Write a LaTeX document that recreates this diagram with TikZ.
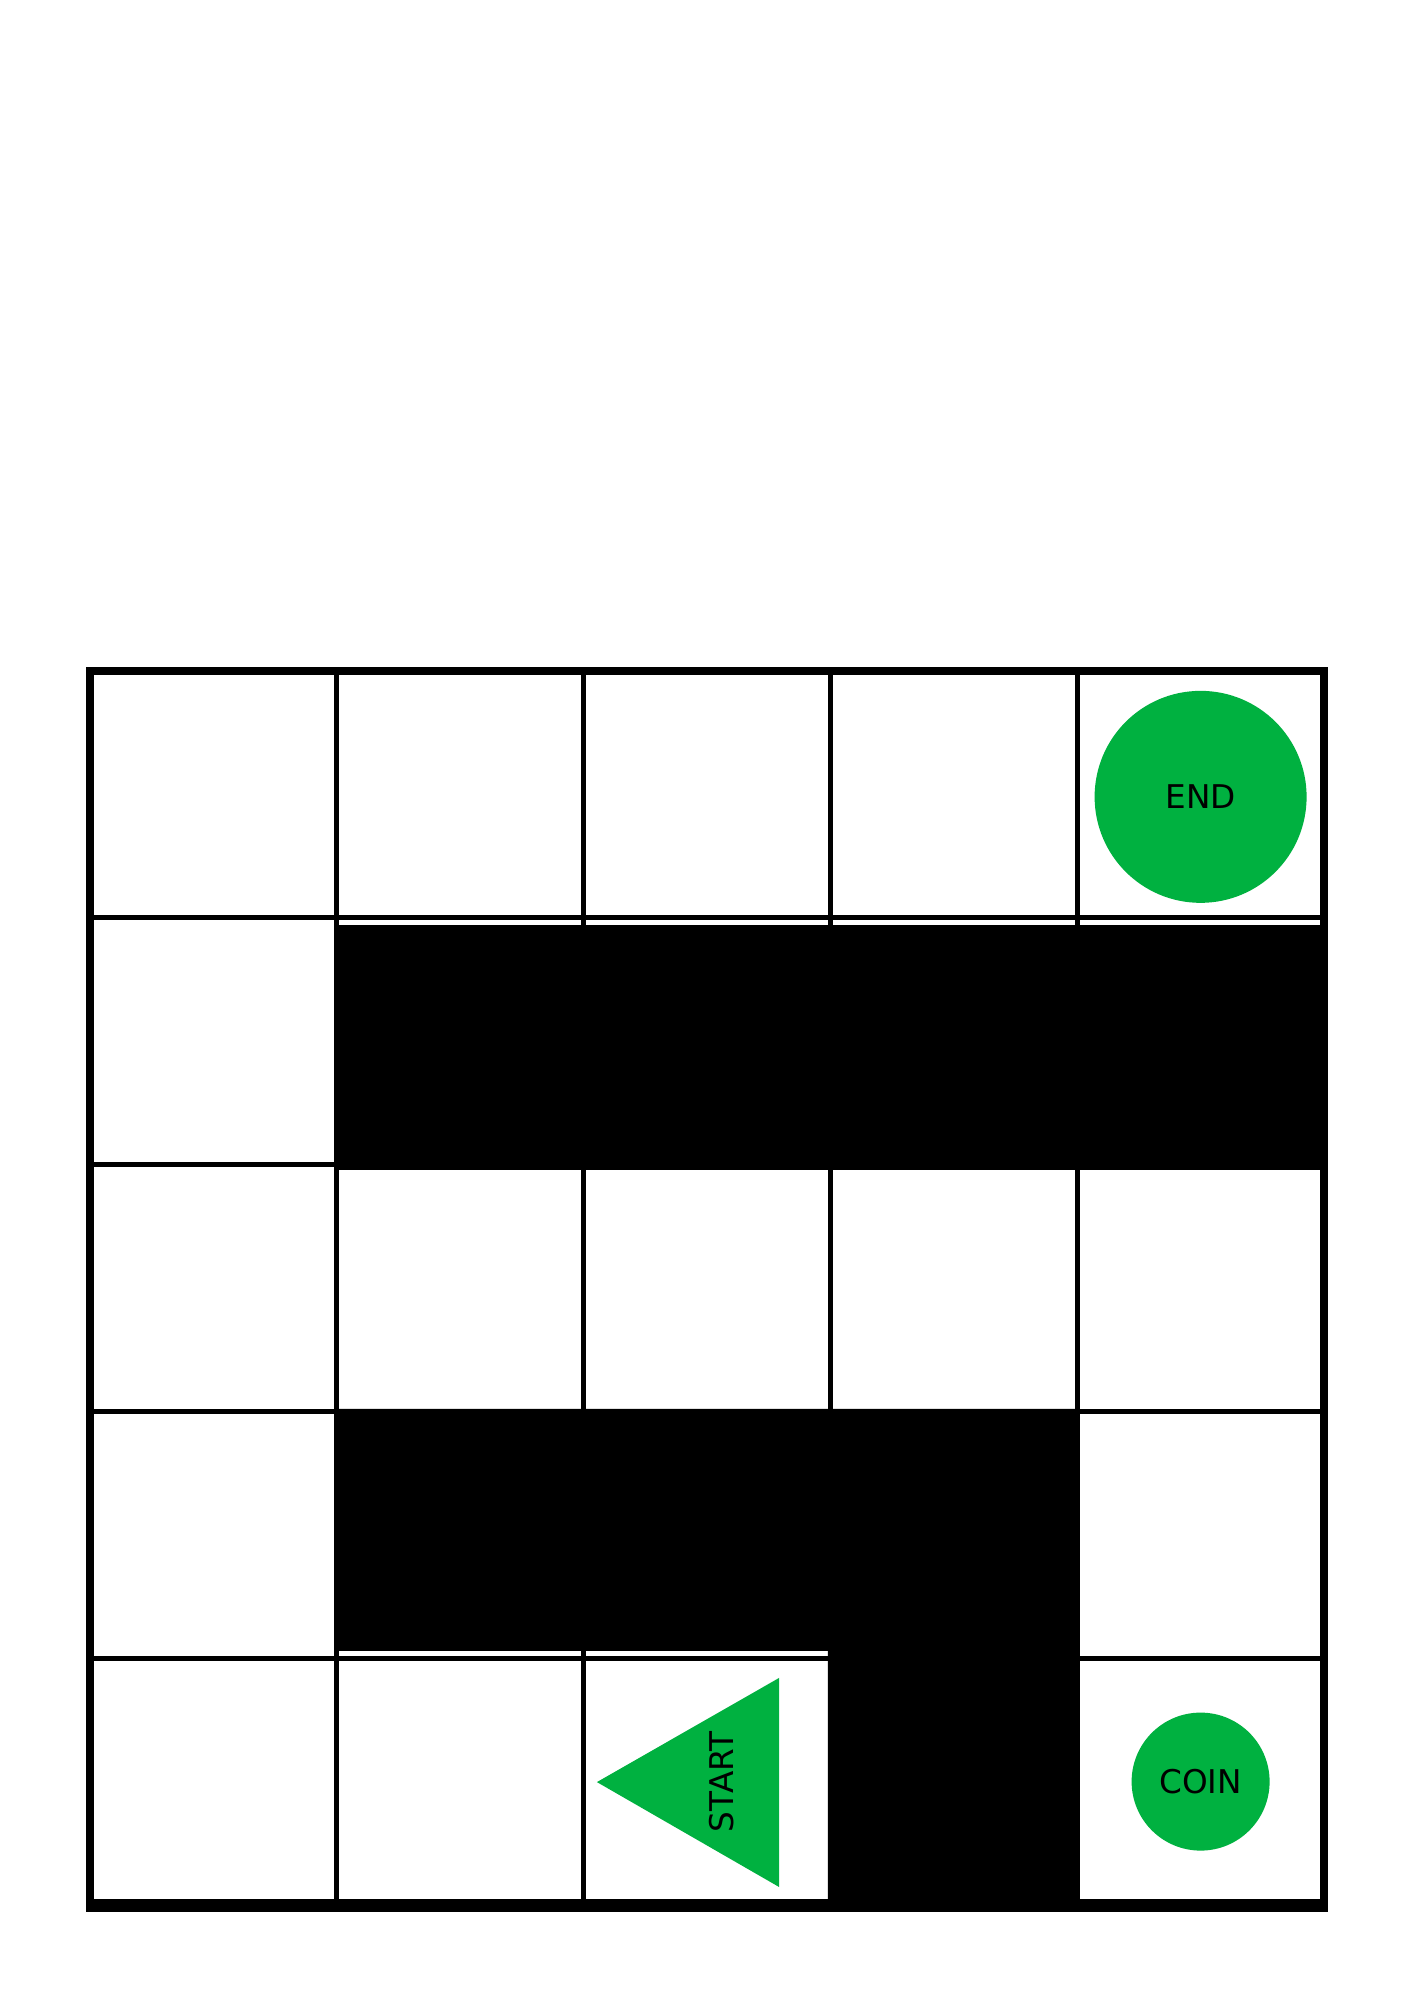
\documentclass[tikz,border=0pt]{standalone}
\usepackage{fontspec}
\setmainfont{DejaVu Sans}
\definecolor{goalgreen}{RGB}{0,177,64}
\tikzset{
  wall/.style={fill=black},
  goal/.style={circle, fill=goalgreen, inner sep=0pt, font=\fontsize{9.3}{11}\selectfont},
}
\begin{document}
\begin{tikzpicture}[x=2.468cm,y=2.468cm]
\fill[white] (-0.3647,-0.3849) rectangle (5.3647,7.7188);
\draw[line width=0.5mm, step=1] (0,0) grid (5,5);
% walls
\fill[wall] (1,2.98) rectangle (5,3.97);
\fill[wall]
  (1,1.03) --
  (2.99,1.03) --
  (2.99,-0.02) --
  (4.01,-0.02) --
  (4.01,2.01) --
  (1,2.01) -- cycle;
\draw[line width=0.8mm] (0,0) rectangle (5,5);
\draw[line width=1.3mm] (-0.016,0) -- (5.016,0);
% end, coin and start
\node[goal, minimum size=2.12cm] (end) at (4.5,4.49) {END};
\node[goal, minimum size=1.38cm] (coin) at (4.5,0.5) {COIN};
\fill[goalgreen] (2.054,0.498) -- (2.792,0.92) -- (2.792,0.073) -- cycle;
\node[rotate=90, font=\fontsize{9.3}{11}\selectfont] (start) at (2.56,0.5) {START};
\end{tikzpicture}
\end{document}
